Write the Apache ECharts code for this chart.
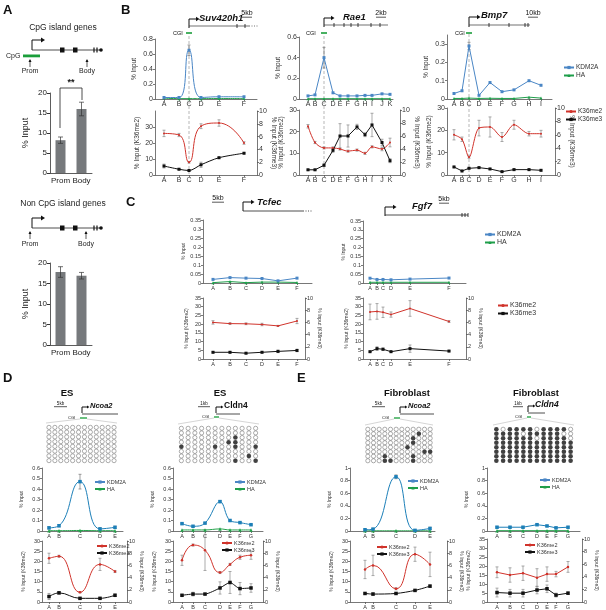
<!DOCTYPE html>
<html>
<head>
<meta charset="utf-8">
<script src="https://cdn.jsdelivr.net/npm/echarts@6/dist/echarts.min.js"></script>
<style>
  html, body { margin: 0; padding: 0; background: #fff; }
  #chart { width: 606px; height: 610px; }
</style>
</head>
<body>
<div id="chart"></div>
<script>
// ---------- data ----------
// A: ChIP at promoter vs gene body
const barCats = ['Prom', 'Body'];
const cpgVals = [8.2, 16.0];
const cpgErr = [0.8, 1.7];
const nonCpgVals = [17.8, 16.9];
const nonCpgErr = [1.3, 0.8];

// amplicon positions (relative units along the locus) and letters
const suvLetters = ['A', 'B', 'C', 'D', 'E', 'F'];
const suvPos = [0, 15, 25, 37, 55, 80];
const suvKdm = [0.02, 0.02, 0.65, 0.02, 0.03, 0.03];
const suvKdmErr = [0, 0, 0.07, 0, 0, 0];
const suvHa = [0.012, 0.005, 0.005, 0.005, 0.006, 0.006];
const suvMe2 = [26, 25, 8, 30.5, 32.5, 20];
const suvMe2Err = [2, 1, 0.5, 1.5, 2, 0.8];
const suvMe3 = [1.4, 0.9, 0.7, 1.6, 2.7, 3.4];
const suvMe3Err = [0.3, 0.1, 0.1, 0.4, 0.1, 0.1];

const raeLetters = ['A', 'B', 'C', 'D', 'E', 'F', 'G', 'H', 'I', 'J', 'K'];
const raePos = [0, 7, 16, 25, 32, 40, 49, 57, 64, 74, 82];
const raeKdm = [0.03, 0.04, 0.40, 0.06, 0.03, 0.03, 0.03, 0.035, 0.035, 0.05, 0.045];
const raeKdmErr = [0, 0, 0.1, 0, 0, 0, 0, 0, 0, 0, 0];
const raeHa = [0.003, 0.003, 0.003, 0.003, 0.003, 0.003, 0.003, 0.003, 0.003, 0.003, 0.003];
const raeMe2 = [22.5, 15, 12.5, 12.5, 12, 11, 11.5, 10, 13, 12, 15];
const raeMe2Err = [0.8, 0.5, 0.5, 0.5, 0.5, 0.5, 0.5, 0.5, 0.5, 0.8, 2];
const raeMe3 = [0.8, 0.8, 1.5, 3.8, 6.0, 6.0, 7.4, 6.2, 7.7, 5.0, 2.2];
const raeMe3Err = [0.1, 0.1, 0.2, 0.3, 1.9, 1.7, 0.4, 0.3, 1.8, 0.5, 0.3];

const bmpLetters = ['A', 'B', 'C', 'D', 'E', 'F', 'G', 'H', 'I'];
const bmpPos = [0, 8, 15, 25, 36, 48, 60, 75, 87];
const bmpKdm = [0.03, 0.045, 0.29, 0.02, 0.09, 0.04, 0.05, 0.1, 0.075];
const bmpKdmErr = [0, 0, 0.02, 0, 0, 0, 0, 0, 0];
const bmpHa = [0.003, 0.003, 0.005, 0.003, 0.004, 0.003, 0.003, 0.01, 0.005];
const bmpMe2 = [18, 16, 8, 21, 21.5, 17, 22.5, 18.5, 18.5];
const bmpMe2Err = [2.3, 1, 0.5, 3.5, 4.5, 2, 2, 1, 1.5];
const bmpMe3 = [1.2, 0.6, 1.0, 1.1, 0.9, 0.5, 0.8, 0.8, 0.7];
const bmpMe3Err = [0.1, 0.1, 0.1, 0.1, 0.1, 0.1, 0.1, 0.1, 0.1];

// C: non-CpG island genes
const tcfLetters = ['A', 'B', 'C', 'D', 'E', 'F'];
const tcfPos = [0, 17, 33, 49, 65, 84];
const tcfKdm = [0.02, 0.03, 0.027, 0.025, 0.012, 0.027];
const tcfHa = [0.002, 0.008, 0.002, 0.005, 0.005, 0.003];
const tcfMe2 = [21, 20.3, 20.2, 19.8, 19, 21.8];
const tcfMe2Err = [1, 0.5, 0.5, 0.7, 0.3, 1.5];
const tcfMe3 = [1.1, 1.1, 0.95, 1.1, 1.25, 1.4];
const tcfMe3Err = [0.1, 0.1, 0.1, 0.1, 0.2, 0.2];

const fgfLetters = ['A', 'B', 'C', 'D', 'E', 'F'];
const fgfPos = [0, 7, 13, 21, 40, 79];
const fgfKdm = [0.027, 0.02, 0.02, 0.018, 0.022, 0.028];
const fgfHa = [0.004, 0.004, 0.004, 0.004, 0.004, 0.004];
const fgfMe2 = [27, 27.3, 26.8, 25.5, 29, 21.5];
const fgfMe2Err = [4.5, 4.5, 3, 1.5, 4.5, 0.5];
const fgfMe3 = [1.2, 1.7, 1.6, 1.2, 1.7, 1.3];
const fgfMe3Err = [0.1, 0.3, 0.2, 0.1, 0.6, 0.1];

// D: ES cells
const esNcoaLetters = ['A', 'B', 'C', 'D', 'E'];
const esNcoaPos = [0, 10, 31, 51, 66];
const esNcoaKdm = [0.03, 0.05, 0.47, 0.02, 0.035];
const esNcoaKdmErr = [0.01, 0.01, 0.07, 0.01, 0.01];
const esNcoaHa = [0.003, 0.003, 0.005, 0.003, 0.003];
const esNcoaMe2 = [21.5, 22.5, 4.8, 18.5, 15];
const esNcoaMe2Err = [2.5, 0.5, 0.3, 3, 0.5];
const esNcoaMe3 = [0.9, 1.5, 0.6, 0.6, 1.1];
const esNcoaMe3Err = [0.5, 0.2, 0.1, 0.1, 0.2];

const esCldnLetters = ['A', 'B', 'C', 'D', 'E', 'F', 'G'];
const esCldnPos = [0, 11, 23, 38, 48, 58, 69];
const esCldnKdm = [0.07, 0.045, 0.075, 0.28, 0.1, 0.08, 0.06];
const esCldnKdmErr = [0.005, 0.005, 0.005, 0.01, 0.005, 0.005, 0.005];
const esCldnHa = [0.01, 0.01, 0.01, 0.02, 0.01, 0.01, 0.01];
const esCldnMe2 = [20.5, 28, 25.5, 14.5, 18.5, 22, 23];
const esCldnMe2Err = [2.5, 0.5, 10, 0.5, 0.5, 1, 2];
const esCldnMe3 = [1.1, 1.3, 1.3, 2.3, 3.2, 2.2, 2.3];
const esCldnMe3Err = [0.1, 0.3, 0.1, 1, 1.8, 1, 0.7];

// E: fibroblasts
const fbNcoaLetters = ['A', 'B', 'C', 'D', 'E'];
const fbNcoaPos = [0, 8, 31, 50, 65];
const fbNcoaKdm = [0.02, 0.03, 0.86, 0.01, 0.04];
const fbNcoaKdmErr = [0.01, 0.01, 0.03, 0.01, 0.02];
const fbNcoaHa = [0.003, 0.003, 0.003, 0.003, 0.003];
const fbNcoaMe2 = [16, 18, 6.5, 23.5, 18.5];
const fbNcoaMe2Err = [4.5, 5, 0.5, 3.5, 6];
const fbNcoaMe3 = [1.4, 1.3, 1.4, 1.9, 2.6];
const fbNcoaMe3Err = [0.1, 0.2, 0.1, 0.1, 0.2];

const fbCldnLetters = ['A', 'B', 'C', 'D', 'E', 'F', 'G'];
const fbCldnPos = [0, 13, 26, 40, 50, 59, 71];
const fbCldnKdm = [0.06, 0.06, 0.06, 0.1, 0.08, 0.05, 0.06];
const fbCldnKdmErr = [0.01, 0.01, 0.01, 0.01, 0.01, 0.01, 0.01];
const fbCldnHa = [0.005, 0.005, 0.005, 0.005, 0.005, 0.005, 0.005];
const fbCldnMe2 = [16.5, 15, 16, 13.5, 15.5, 15.5, 19.5];
const fbCldnMe2Err = [3, 4, 4, 5, 4, 1.5, 3];
const fbCldnMe3 = [1.5, 1.4, 1.4, 1.9, 2.1, 1.1, 1.4];
const fbCldnMe3Err = [0.7, 0.6, 0.6, 0.6, 0.6, 0.3, 0.2];

// bisulfite grids: [row, col] of methylated CpGs (fibroblast Cldn4: unmethylated ones)
const methRows = 8;
const methCols = 12;
const esNcoaMeth = [];
const esCldnMeth = [[2, 8], [3, 7], [3, 8], [4, 0], [4, 5], [4, 8], [4, 11], [6, 10], [7, 8], [7, 11]];
const fbNcoaMeth = [[1, 9], [2, 8], [3, 8], [4, 7], [5, 10], [5, 11], [6, 3], [6, 8], [7, 3], [7, 4], [7, 8]];
const fbCldnUnmeth = [[0, 1], [0, 6], [0, 11], [1, 4], [1, 10], [1, 11], [2, 6], [2, 11]];

// ---------- chart ----------
const FONT = '"Liberation Sans", Arial, sans-serif';
const chart = echarts.init(document.getElementById('chart'));
const option = {
  animation: false,
  textStyle: { fontFamily: FONT },
  grid: [], xAxis: [], yAxis: [], series: [], legend: [], graphic: []
};
const G = option.graphic;

function push(arr, item) { arr.push(item); return arr.length - 1; }

const lineAx = { show: true, onZero: false, lineStyle: { color: '#555', width: 0.8 } };
const tickAx = { show: true, length: 2, lineStyle: { color: '#555', width: 0.8 } };

function errSeries(xi, yi, pts, color, cap) {
  return {
    type: 'custom', xAxisIndex: xi, yAxisIndex: yi, silent: true, z: 3, clip: false,
    data: pts,
    renderItem: function (params, api) {
      const x = api.value(0), y = api.value(1), e = api.value(2);
      if (!e) return null;
      const t = api.coord([x, y + e]), b = api.coord([x, y - e]);
      const st = { stroke: color, lineWidth: 0.7 };
      return { type: 'group', children: [
        { type: 'line', shape: { x1: t[0], y1: t[1], x2: b[0], y2: b[1] }, style: st },
        { type: 'line', shape: { x1: t[0] - cap, y1: t[1], x2: t[0] + cap, y2: t[1] }, style: st },
        { type: 'line', shape: { x1: b[0] - cap, y1: b[1], x2: b[0] + cap, y2: b[1] }, style: st }
      ] };
    }
  };
}

function lineSeries(name, xi, yi, xs, ys, color, symbol, size, smooth) {
  return {
    name: name, type: 'line', xAxisIndex: xi, yAxisIndex: yi, z: 4,
    data: xs.map((x, i) => [x, ys[i]]),
    symbol: symbol, symbolSize: size, smooth: smooth,
    itemStyle: { color: color }, lineStyle: { color: color, width: 1 }
  };
}

// ---------- panel A bars ----------
function barPlot(top, h, vals, errs) {
  const g = push(option.grid, { left: 50, top: top, width: 42, height: h });
  const x = push(option.xAxis, {
    type: 'category', gridIndex: g, data: barCats,
    axisLine: { show: true, lineStyle: { color: '#333', width: 0.8 } }, axisTick: { show: false },
    axisLabel: { fontSize: 8, color: '#222', margin: 4, interval: 0 }
  });
  const y = push(option.yAxis, {
    type: 'value', gridIndex: g, min: 0, max: 20, interval: 5,
    name: '% Input', nameLocation: 'middle', nameGap: 20,
    nameTextStyle: { fontSize: 9, color: '#222' },
    axisLine: { show: true, lineStyle: { color: '#333', width: 0.8 } },
    axisTick: { show: true, length: 3 }, splitLine: { show: false },
    axisLabel: { fontSize: 8, color: '#222', margin: 3 }
  });
  option.series.push({ type: 'bar', xAxisIndex: x, yAxisIndex: y, data: vals, barWidth: 10,
    itemStyle: { color: '#76797c' } });
  option.series.push(errSeries(x, y, vals.map((v, i) => [i, v, errs[i]]), '#333', 2.5));
}
barPlot(93, 80, cpgVals, cpgErr);
barPlot(263, 82, nonCpgVals, nonCpgErr);

// ---------- profile plots (B-E) ----------
function profile(p) {
  const fs = p.fs;
  const lab = { fontSize: fs, color: '#333', margin: 2 };
  const xs = p.pos;
  const letter = v => p.letters[xs.indexOf(v)] || '';
  const kdmC = p.kdmColor || '#4a86c5', haC = p.haColor || '#1f9e4a';
  const xAx = (g, w) => ({
    type: 'value', gridIndex: g, min: p.xMin, max: p.xMin + w,
    axisLine: lineAx, splitLine: { show: false },
    axisTick: Object.assign({}, tickAx, { customValues: xs }),
    axisLabel: Object.assign({}, lab, { customValues: xs, formatter: letter })
  });
  const yAx = (g, max, int, name, gap, extra) => Object.assign({
    type: 'value', gridIndex: g, min: 0, max: max, interval: int,
    name: name, nameLocation: 'middle', nameGap: gap,
    nameTextStyle: { fontSize: fs - 0.5, color: '#333' },
    axisLine: lineAx, axisTick: tickAx, splitLine: { show: false },
    axisLabel: Object.assign({}, lab, { formatter: v => String(+v.toFixed(2)) })
  }, extra || {});

  // upper: KDM2A / HA
  const gu = push(option.grid, { left: p.left, top: p.upTop, width: p.upW, height: p.upH });
  const xu = push(option.xAxis, xAx(gu, p.upW));
  const yu = push(option.yAxis, yAx(gu, p.upMax, p.upInt, '% Input', p.upGap));
  if (p.upHideMax) option.yAxis[yu].axisLabel.showMaxLabel = false;
  option.series.push(lineSeries('HA', xu, yu, xs, p.ha, haC, 'triangle', p.sym, p.smU));
  option.series.push(lineSeries('KDM2A', xu, yu, xs, p.kdm, kdmC, 'rect', p.sym, p.smU));
  if (p.kdmErr) option.series.push(errSeries(xu, yu, xs.map((x, i) => [x, p.kdm[i], p.kdmErr[i]]), '#777', 1.5));

  // lower: H3K36me2 (left) / H3K36me3 (right)
  const gl = push(option.grid, { left: p.left, top: p.loTop, width: p.loW, height: p.loH });
  const xl = push(option.xAxis, xAx(gl, p.loW));
  const yl = push(option.yAxis, yAx(gl, p.loMax, p.loInt, '% Input (K36me2)', p.loGap));
  if (p.loHideMax) option.yAxis[yl].axisLabel.showMaxLabel = false;
  const yr = push(option.yAxis, yAx(gl, 10, 2, '% Input (K36me3)', p.rGap, { position: 'right', nameRotate: -90 }));
  option.series.push(lineSeries('K36me2', xl, yl, xs, p.me2, '#d0332b', 'circle', p.sym - 1, p.smR));
  option.series.push(errSeries(xl, yl, xs.map((x, i) => [x, p.me2[i], p.me2Err[i]]), '#888', 1.5));
  option.series.push(lineSeries('K36me3', xl, yr, xs, p.me3, '#111', 'rect', p.sym, p.smK));
  option.series.push(errSeries(xl, yr, xs.map((x, i) => [x, p.me3[i], p.me3Err[i]]), '#888', 1.5));

  // dashed guide through the CGI amplicon
  if (p.guideTop) {
    option.series.push({
      type: 'custom', xAxisIndex: xl, yAxisIndex: yl, silent: true, clip: false, z: 1,
      data: [[xs[2]]],
      renderItem: function (params, api) {
        const b = api.coord([api.value(0), 0]);
        return { type: 'line', shape: { x1: b[0], y1: p.guideTop, x2: b[0], y2: b[1] },
          style: { stroke: '#9a9a9a', lineWidth: 0.7, lineDash: [3, 2] } };
      }
    });
  }

  const legend = (pt, names) => option.legend.push({
    left: pt[0], top: pt[1], orient: 'vertical', itemGap: 1, itemWidth: 10, itemHeight: 4,
    padding: 0, selectedMode: false, data: names,
    textStyle: { fontSize: p.legFs || fs, color: '#333', padding: [0, 0, 0, -3] }
  });
  if (p.leg1) legend(p.leg1, ['KDM2A', 'HA']);
  if (p.leg2) legend(p.leg2, ['K36me2', 'K36me3']);
}

// B
profile({ left: 155, xMin: -9, upW: 102, loW: 102, pos: suvPos, letters: suvLetters,
  upTop: 39, upH: 60, upMax: 0.8, upInt: 0.2, upGap: 17,
  loTop: 111, loH: 64, loMax: 40, loInt: 10, loHideMax: true, loGap: 14, rGap: 10,
  kdm: suvKdm, kdmErr: suvKdmErr, ha: suvHa, me2: suvMe2, me2Err: suvMe2Err, me3: suvMe3, me3Err: suvMe3Err,
  fs: 7, sym: 3, smU: 0.5, smR: 0.5, smK: 0.3, guideTop: 36 });
profile({ left: 299, xMin: -9, upW: 94, loW: 101, pos: raePos, letters: raeLetters,
  upTop: 37, upH: 62, upMax: 0.6, upInt: 0.2, upGap: 17,
  loTop: 110, loH: 65, loMax: 30, loInt: 10, loGap: 14, rGap: 10,
  kdm: raeKdm, kdmErr: raeKdmErr, ha: raeHa, me2: raeMe2, me2Err: raeMe2Err, me3: raeMe3, me3Err: raeMe3Err,
  fs: 7, sym: 3, smU: false, smR: 0.3, smK: false, guideTop: 36 });
profile({ left: 447, xMin: -7, upW: 105, loW: 108, pos: bmpPos, letters: bmpLetters,
  upTop: 35, upH: 64, upMax: 0.35, upInt: 0.1, upHideMax: true, upGap: 17,
  loTop: 108, loH: 67, loMax: 30, loInt: 10, loGap: 14, rGap: 10,
  kdm: bmpKdm, kdmErr: bmpKdmErr, ha: bmpHa, me2: bmpMe2, me2Err: bmpMe2Err, me3: bmpMe3, me3Err: bmpMe3Err,
  fs: 7, sym: 3, smU: false, smR: 0.3, smK: false, guideTop: 34,
  leg1: [563, 64], leg2: [565, 108], legFs: 6.5 });

// C
profile({ left: 203, xMin: -10, upW: 109, loW: 102, pos: tcfPos, letters: tcfLetters,
  upTop: 220, upH: 63, upMax: 0.35, upInt: 0.05, upGap: 17,
  loTop: 298, loH: 61, loMax: 35, loInt: 5, loGap: 14, rGap: 10,
  kdm: tcfKdm, ha: tcfHa, me2: tcfMe2, me2Err: tcfMe2Err, me3: tcfMe3, me3Err: tcfMe3Err,
  fs: 5.5, sym: 3, smU: false, smR: false, smK: false });
profile({ left: 363, xMin: -7, upW: 103, loW: 103, pos: fgfPos, letters: fgfLetters,
  upTop: 221, upH: 62, upMax: 0.35, upInt: 0.05, upGap: 17,
  loTop: 298, loH: 61, loMax: 35, loInt: 5, loGap: 14, rGap: 10,
  kdm: fgfKdm, ha: fgfHa, me2: fgfMe2, me2Err: fgfMe2Err, me3: fgfMe3, me3Err: fgfMe3Err,
  fs: 5.5, sym: 3, smU: false, smR: false, smK: false,
  leg1: [484, 231], leg2: [497, 302], legFs: 7 });

// D / E
const deCommon = { upTop: 468, upH: 63, loTop: 541, loH: 61, fs: 5.5, sym: 3.5,
  kdmColor: '#1c7fb8', haColor: '#24a24b', upGap: 18, loGap: 16, rGap: 10, legFs: 5.5 };
profile(Object.assign({}, deCommon, { left: 42, xMin: -7, upW: 81, loW: 85, pos: esNcoaPos, letters: esNcoaLetters,
  upMax: 0.6, upInt: 0.1, loMax: 30, loInt: 5,
  kdm: esNcoaKdm, kdmErr: esNcoaKdmErr, ha: esNcoaHa, me2: esNcoaMe2, me2Err: esNcoaMe2Err, me3: esNcoaMe3, me3Err: esNcoaMe3Err,
  smU: 0.5, smR: 0.5, smK: 0.4, leg1: [94, 479], leg2: [96, 543] }));
profile(Object.assign({}, deCommon, { left: 173, xMin: -9, upW: 90, loW: 90, pos: esCldnPos, letters: esCldnLetters,
  upMax: 0.6, upInt: 0.1, loMax: 30, loInt: 5,
  kdm: esCldnKdm, kdmErr: esCldnKdmErr, ha: esCldnHa, me2: esCldnMe2, me2Err: esCldnMe2Err, me3: esCldnMe3, me3Err: esCldnMe3Err,
  smU: 0.4, smR: 0.5, smK: 0.2, leg1: [234, 479], leg2: [221, 540] }));
profile(Object.assign({}, deCommon, { left: 350, xMin: -15, upW: 85, loW: 97, pos: fbNcoaPos, letters: fbNcoaLetters,
  upMax: 1, upInt: 0.2, loMax: 30, loInt: 5,
  kdm: fbNcoaKdm, kdmErr: fbNcoaKdmErr, ha: fbNcoaHa, me2: fbNcoaMe2, me2Err: fbNcoaMe2Err, me3: fbNcoaMe3, me3Err: fbNcoaMe3Err,
  smU: 0.5, smR: 0.5, smK: 0.3, leg1: [407, 478], leg2: [376, 544] }));
profile(Object.assign({}, deCommon, { left: 487, xMin: -10, upW: 93, loW: 95, pos: fbCldnPos, letters: fbCldnLetters,
  loTop: 539, loH: 63, upMax: 1, upInt: 0.2, loMax: 35, loInt: 5,
  kdm: fbCldnKdm, kdmErr: fbCldnKdmErr, ha: fbCldnHa, me2: fbCldnMe2, me2Err: fbCldnMe2Err, me3: fbCldnMe3, me3Err: fbCldnMe3Err,
  smU: false, smR: false, smK: false, leg1: [539, 477], leg2: [524, 542] }));

// ---------- bisulfite methylation grids ----------
function methGrid(left, top, w, h, cells, invert) {
  const g = push(option.grid, { left: left, top: top, width: w, height: h });
  const x = push(option.xAxis, { type: 'value', gridIndex: g, min: -0.5, max: methCols - 0.5, show: false });
  const y = push(option.yAxis, { type: 'value', gridIndex: g, min: -0.5, max: methRows - 0.5, inverse: true, show: false });
  const open = [], full = [];
  for (let r = 0; r < methRows; r++) {
    for (let c = 0; c < methCols; c++) {
      const hit = cells.some(rc => rc[0] === r && rc[1] === c);
      (hit !== invert ? full : open).push([c, r]);
    }
  }
  option.series.push({ type: 'scatter', xAxisIndex: x, yAxisIndex: y, data: open, symbolSize: 4.2,
    itemStyle: { color: '#fff', borderColor: '#555', borderWidth: 0.6 }, silent: true });
  option.series.push({ type: 'scatter', xAxisIndex: x, yAxisIndex: y, data: full, symbolSize: 4.6,
    itemStyle: { color: '#111' }, silent: true });
}
methGrid(46, 425, 71, 38, esNcoaMeth, false);
methGrid(178, 426, 81, 37, esCldnMeth, false);
methGrid(365, 427, 68, 36, fbNcoaMeth, false);
methGrid(493, 427, 81, 36, fbCldnUnmeth, true);

// ---------- text and gene diagrams ----------
function txt(x, y, s, size, extra) {
  G.push({ type: 'text', x: x, y: y, z: 10, style: Object.assign({ text: s, fontSize: size, fontFamily: FONT,
    fill: '#111', align: 'left', verticalAlign: 'middle' }, extra || {}) });
}
function seg(x1, y1, x2, y2, stroke, lw, dash) {
  G.push({ type: 'line', z: 10, shape: { x1: x1, y1: y1, x2: x2, y2: y2 },
    style: { stroke: stroke || '#111', lineWidth: lw || 0.8, lineDash: dash || null } });
}
function promoter(x, yb, yt, len, hs) {
  G.push({ type: 'polyline', z: 10, shape: { points: [[x, yb], [x, yt], [x + len, yt]] },
    style: { stroke: '#111', lineWidth: 1, fill: null } });
  G.push({ type: 'polygon', z: 10, shape: { points: [[x + len, yt - hs], [x + len + hs * 1.6, yt], [x + len, yt + hs]] },
    style: { fill: '#111' } });
}
function upArrow(x, y0, y1) {
  seg(x, y0, x, y1, '#111', 0.7);
  G.push({ type: 'polygon', z: 10, shape: { points: [[x - 1.5, y1 + 2], [x, y1 - 1], [x + 1.5, y1 + 2]] }, style: { fill: '#111' } });
}
function scaleBar(x, y, w, label, size) {
  txt(x + w / 2, y, label, size, { align: 'center' });
  seg(x, y + size * 0.6, x + w, y + size * 0.6, '#111', 0.7);
}
function geneModel(y0, title, ty) {
  txt(63, ty, title, 8.5, { align: 'center', fill: '#222' });
  promoter(32, y0, y0 - 10, 9, 2.5);
  seg(32, y0, 101, y0, '#222', 0.8);
  G.push({ type: 'rect', z: 10, shape: { x: 60, y: y0 - 2.5, width: 4.5, height: 5 }, style: { fill: '#111' } });
  G.push({ type: 'rect', z: 10, shape: { x: 73, y: y0 - 2.5, width: 4.5, height: 5 }, style: { fill: '#111' } });
  seg(94, y0 - 2.5, 94, y0 + 2.5, '#111', 1.2);
  seg(97, y0 - 2.5, 97, y0 + 2.5, '#111', 1.2);
  G.push({ type: 'circle', z: 10, shape: { cx: 101, cy: y0, r: 1.8 }, style: { fill: '#111' } });
}

// panel letters
txt(3, 10, 'A', 13, { fontWeight: 'bold' });
txt(121, 10, 'B', 13, { fontWeight: 'bold' });
txt(126, 202, 'C', 13, { fontWeight: 'bold' });
txt(3, 378, 'D', 13, { fontWeight: 'bold' });
txt(297, 378, 'E', 13, { fontWeight: 'bold' });

// A gene models
geneModel(50, 'CpG island genes', 28);
G.push({ type: 'rect', z: 10, shape: { x: 23, y: 54.5, width: 17, height: 2.8 }, style: { fill: '#1a9e3a' } });
txt(6, 56, 'CpG', 7, { fill: '#222' });
upArrow(30, 67, 60); txt(30, 71, 'Prom', 7, { align: 'center', fill: '#222' });
upArrow(87, 67, 60); txt(87, 71, 'Body', 7, { align: 'center', fill: '#222' });
G.push({ type: 'polyline', z: 10, shape: { points: [[60, 128], [60, 88], [82, 88], [82, 100]] },
  style: { stroke: '#222', lineWidth: 0.8, fill: null } });
txt(71, 83, '**', 9, { align: 'center', fontWeight: 'bold' });

geneModel(228, 'Non CpG island genes', 204);
upArrow(30, 239, 232); txt(30, 244, 'Prom', 7, { align: 'center', fill: '#222' });
upArrow(86, 239, 232); txt(86, 244, 'Body', 7, { align: 'center', fill: '#222' });

// B gene models
promoter(189, 28, 19, 7, 2.2);
txt(199, 18, 'Suv420h1', 9.5, { fontWeight: 'bold', fontStyle: 'italic' });
scaleBar(242, 13, 10, '5kb', 7);
seg(189, 26, 249, 26, '#333', 0.7); seg(237, 24, 237, 28); seg(245, 24, 245, 28);
seg(249, 26, 258, 26, '#333', 0.7, [1, 1.5]);
txt(173, 33, 'CGI', 5.5); seg(186, 33, 192, 33, '#1a9e3a', 1.6);

promoter(324, 27, 18, 7, 2.2);
txt(343, 17, 'Rae1', 9.5, { fontWeight: 'bold', fontStyle: 'italic' });
scaleBar(376, 13, 10, '2kb', 7);
seg(324, 25, 388, 25, '#333', 0.7);
[334, 344, 351, 358, 371, 380].forEach(x => seg(x, 23, x, 27));
txt(306, 33, 'CGI', 5.5); seg(321, 33, 327, 33, '#1a9e3a', 1.6);

promoter(469, 27, 17, 8, 2.2);
txt(481, 15, 'Bmp7', 9.5, { fontWeight: 'bold', fontStyle: 'italic' });
scaleBar(528, 13, 10, '10kb', 7);
seg(469, 25, 530, 25, '#333', 0.7);
[489, 509, 525, 528].forEach(x => seg(x, 23, x, 27));
txt(455, 33, 'CGI', 5.5); seg(466, 33, 472, 33, '#1a9e3a', 1.6);

// C gene models
scaleBar(212, 198, 12, '5kb', 7);
promoter(243, 211, 202, 8, 2.2);
txt(257, 202, 'Tcfec', 9.5, { fontWeight: 'bold', fontStyle: 'italic' });
seg(243, 211, 303, 211, '#222', 0.8); seg(303, 211, 312, 211, '#222', 0.8, [1, 1.5]);

promoter(385, 216, 207, 8, 2.2);
txt(412, 206, 'Fgf7', 9.5, { fontWeight: 'bold', fontStyle: 'italic' });
scaleBar(439, 199, 10, '5kb', 7);
seg(385, 215, 468, 215, '#222', 0.8);
[462, 465, 468].forEach(x => seg(x, 213, x, 217));

// D / E titles
txt(67, 393, 'ES', 9.5, { align: 'center', fontWeight: 'bold' });
txt(220, 393, 'ES', 9.5, { align: 'center', fontWeight: 'bold' });
txt(407, 393, 'Fibroblast', 9.5, { align: 'center', fontWeight: 'bold' });
txt(536, 393, 'Fibroblast', 9.5, { align: 'center', fontWeight: 'bold' });

function locus(o) {
  scaleBar(o.sb[0], o.sb[1], o.sb[2], o.sbText, 4.5);
  promoter(o.px, o.py + 6, o.py, 5, 1.5);
  txt(o.tx, o.py - 1, o.name, o.fs, { fontWeight: 'bold', fontStyle: o.italic ? 'italic' : 'normal' });
  seg(o.px, o.py + 7, o.lineEnd, o.py + 7, '#222', 0.8);
  txt(o.cgi[0] - 12, o.cgi[2], 'CGI', 4);
  seg(o.cgi[0], o.cgi[2], o.cgi[1], o.cgi[2], '#1a9e3a', 1.3);
  seg(o.cgi[0], o.cgi[2] + 1, o.g[0], o.g[2], '#aaa', 0.5);
  seg(o.cgi[1], o.cgi[2] + 1, o.g[1], o.g[2], '#aaa', 0.5);
}
locus({ sb: [54, 404, 13], sbText: '5kb', px: 82, py: 407, tx: 90, name: 'Ncoa2', fs: 7.5, italic: true,
  lineEnd: 118, cgi: [80, 87, 418], g: [46, 117, 423] });
locus({ sb: [198, 404, 12], sbText: '1kb', px: 216, py: 407, tx: 224, name: 'Cldn4', fs: 8.5, italic: false,
  lineEnd: 240, cgi: [214, 219, 417], g: [178, 259, 424] });
locus({ sb: [372, 404, 13], sbText: '5kb', px: 400, py: 407, tx: 408, name: 'Ncoa2', fs: 7.5, italic: true,
  lineEnd: 434, cgi: [394, 400, 418], g: [365, 433, 425] });
locus({ sb: [513, 404, 10], sbText: '1kb', px: 528, py: 406, tx: 535, name: 'Cldn4', fs: 8.5, italic: true,
  lineEnd: 545, cgi: [527, 531, 417], g: [493, 574, 425] });

chart.setOption(option);
</script>
</body>
</html>
